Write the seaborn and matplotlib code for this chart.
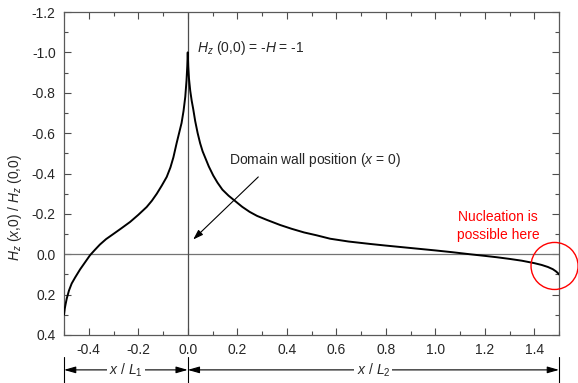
import numpy as np
import pandas as pd
import matplotlib
matplotlib.use("Agg")
import matplotlib.pyplot as plt
import seaborn as sns
from matplotlib.patches import Ellipse
from matplotlib.ticker import MultipleLocator


# field profile: x / L (left of 0 scaled by L1, right by L2)
X_LEFT = [-0.500, -0.499, -0.497, -0.494, -0.489, -0.480, -0.469, -0.455, -0.435,
          -0.415, -0.395, -0.375, -0.355, -0.330, -0.301, -0.270, -0.233, -0.200,
          -0.166, -0.145, -0.125, -0.105, -0.085, -0.070, -0.058, -0.045, -0.035,
          -0.025, -0.017, -0.010, -0.005, -0.002, 0.000]
H_LEFT = [0.30, 0.29, 0.27, 0.25, 0.22, 0.18, 0.145, 0.115, 0.075,
          0.04, 0.005, -0.022, -0.048, -0.075, -0.10, -0.127, -0.16, -0.195,
          -0.234, -0.265, -0.30, -0.34, -0.383, -0.43, -0.48, -0.55, -0.60,
          -0.65, -0.71, -0.78, -0.86, -0.93, -1.00]

X_RIGHT = [0.002, 0.005, 0.010, 0.016, 0.022, 0.030, 0.040, 0.050, 0.060, 0.070,
           0.085, 0.103, 0.120, 0.140, 0.165, 0.190, 0.220, 0.250, 0.280, 0.320,
           0.373, 0.420, 0.470, 0.520, 0.575, 0.650, 0.737, 0.800, 0.900, 1.000,
           1.070, 1.140, 1.200, 1.250, 1.300, 1.350, 1.400, 1.430, 1.455, 1.475,
           1.488, 1.496, 1.500]
H_RIGHT = [-0.93, -0.87, -0.81, -0.76, -0.72, -0.66, -0.60, -0.55, -0.51, -0.48,
           -0.435, -0.39, -0.355, -0.32, -0.29, -0.265, -0.235, -0.21, -0.19, -0.17,
           -0.145, -0.126, -0.108, -0.094, -0.077, -0.063, -0.051, -0.043, -0.031, -0.019,
           -0.010, 0.000, 0.008, 0.015, 0.023, 0.032, 0.044, 0.053, 0.063, 0.074,
           0.085, 0.094, 0.100]

Y_TICKS = [-1.2, -1.0, -0.8, -0.6, -0.4, -0.2, 0.0, 0.2, 0.4]
X_TICKS = [-0.4, -0.2, 0.0, 0.2, 0.4, 0.6, 0.8, 1.0, 1.2, 1.4]

sns.set_style("ticks", {
    "xtick.direction": "in",
    "ytick.direction": "in",
    "axes.edgecolor": "0.35",
})
plt.rcParams["font.family"] = ["Liberation Sans", "DejaVu Sans"]
plt.rcParams["mathtext.fontset"] = "custom"
plt.rcParams["mathtext.rm"] = "Liberation Sans"
plt.rcParams["mathtext.it"] = "Liberation Sans:italic"
plt.rcParams["axes.unicode_minus"] = False

df = pd.DataFrame({
    "x": X_LEFT + X_RIGHT,
    "h": H_LEFT + H_RIGHT,
})

fig = plt.figure(figsize=(5.78, 3.83), dpi=100)
ax = fig.add_axes([64 / 578, 48 / 383, 495 / 578, 323 / 383])

ax.axhline(0, color="0.45", lw=0.9, zorder=1)
ax.axvline(0, color="0.3", lw=0.9, zorder=1)

sns.lineplot(data=df, x="x", y="h", sort=False, estimator=None,
             color="black", lw=1.4, ax=ax, zorder=3)

ax.set_xlim(-0.5, 1.5)
ax.set_ylim(0.4, -1.2)
ax.set_xticks(X_TICKS)
ax.set_yticks(Y_TICKS)
ax.set_xticklabels([f"{t:.1f}" for t in X_TICKS])
ax.set_yticklabels([f"{t:.1f}" for t in Y_TICKS])
ax.xaxis.set_minor_locator(MultipleLocator(0.1))
ax.yaxis.set_minor_locator(MultipleLocator(0.1))
ax.tick_params(which="both", top=True, right=True, direction="in",
               color="0.3", labelsize=10)
ax.tick_params(which="major", length=5, width=0.8)
ax.tick_params(which="minor", length=3, width=0.8)
ax.tick_params(axis="x", pad=6)
ax.tick_params(axis="y", pad=6)
for sp in ax.spines.values():
    sp.set_linewidth(0.9)

ax.set_xlabel("")
ax.set_ylabel(r"$H_z$ ($x$,0) / $H_z$ (0,0)", fontsize=10)
ax.yaxis.set_label_coords(-0.08, 0.395)

# annotations
ax.text(0.036, -1.02, r"$H_z$ (0,0) = -$H$ = -1", fontsize=10, va="center")
ax.text(0.167, -0.466, r"Domain wall position ($x$ = 0)", fontsize=10, va="center")
ax.annotate("", xy=(0.022, -0.073), xytext=(0.285, -0.383),
            arrowprops=dict(arrowstyle="-|>,head_length=0.6,head_width=0.2",
                            color="black", lw=0.8, shrinkA=0, shrinkB=0))

ax.text(1.254, -0.139, "Nucleation is\npossible here", color="red", fontsize=10,
        ha="center", va="center", linespacing=1.35)
ax.add_patch(Ellipse((1.482, 0.058), 0.19, 0.233, fill=False, edgecolor="red",
                     lw=1.0, clip_on=False, zorder=4))

# scale bars below the x axis
trans = ax.get_xaxis_transform()
for xb in [-0.5, 0.0, 1.5]:
    ax.plot([xb, xb], [-0.068, -0.15], transform=trans, color="black",
            lw=0.8, clip_on=False)
for (x0, x1, lab) in [(-0.5, 0.0, r"$x$ / $L_1$"), (0.0, 1.5, r"$x$ / $L_2$")]:
    ax.annotate("", xy=(x0, -0.108), xytext=(x1, -0.108), xycoords=trans,
                textcoords=trans,
                arrowprops=dict(arrowstyle="<|-|>,head_length=0.7,head_width=0.2",
                                color="black", lw=0.8, shrinkA=0, shrinkB=0))
    ax.text((x0 + x1) / 2, -0.108, lab, transform=trans, fontsize=10,
            ha="center", va="center",
            bbox=dict(facecolor="white", edgecolor="none", pad=1.5))

fig.savefig("out.png", dpi=100)
